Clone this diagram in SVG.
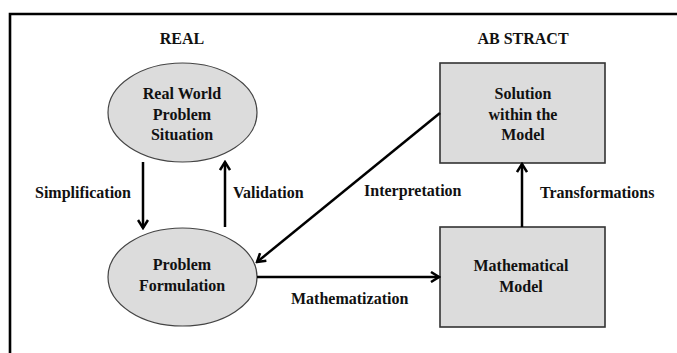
<svg xmlns="http://www.w3.org/2000/svg" width="677" height="353" viewBox="0 0 677 353">
  <style>
    text { font-family: "Liberation Serif", "Times New Roman", serif; font-weight: bold; font-size: 16px; fill: #111; text-anchor: middle; }
    .lbl { text-anchor: start; }
    .node { fill: #dcdcdc; stroke: #444; stroke-width: 1.2; }
    .box { fill: #dcdcdc; stroke: #333; stroke-width: 1.6; }
    .conn { stroke: #000; stroke-width: 2.5; fill: none; marker-end: url(#arrow); }
  </style>
  <defs>
    <marker id="arrow" viewBox="0 0 12 12" refX="10" refY="6" markerWidth="12" markerHeight="12" markerUnits="userSpaceOnUse" orient="auto">
      <polyline points="2,1 10,6 2,11" fill="none" stroke="#000" stroke-width="2.5"/>
    </marker>
  </defs>
  <rect width="677" height="353" fill="#fff"/>
  <!-- frame: top and left edges only -->
  <path d="M10,353 V14 H677" fill="none" stroke="#000" stroke-width="2.6"/>

  <text x="182" y="44">REAL</text>
  <text x="523" y="44">AB STRACT</text>

  <g id="real-world">
    <ellipse class="node" cx="182.5" cy="112.5" rx="74.5" ry="49.5"/>
    <text x="182" y="99">Real World</text>
    <text x="182" y="120">Problem</text>
    <text x="182" y="140">Situation</text>
  </g>
  <g id="problem-formulation">
    <ellipse class="node" cx="182.5" cy="277" rx="74.5" ry="49"/>
    <text x="182" y="270">Problem</text>
    <text x="182" y="291">Formulation</text>
  </g>
  <g id="solution">
    <rect class="box" x="440" y="63" width="165" height="100"/>
    <text x="523" y="99">Solution</text>
    <text x="523" y="120">within the</text>
    <text x="523" y="140">Model</text>
  </g>
  <g id="math-model">
    <rect class="box" x="440" y="227" width="165" height="100"/>
    <text x="521" y="271">Mathematical</text>
    <text x="521" y="292">Model</text>
  </g>

  <g id="connectors">
    <line class="conn" x1="143" y1="162" x2="143" y2="228"/>
    <line class="conn" x1="225" y1="227" x2="225" y2="162"/>
    <line class="conn" x1="440" y1="113" x2="257" y2="262"/>
    <line class="conn" x1="257" y1="277" x2="439" y2="277"/>
    <line class="conn" x1="522" y1="227" x2="522" y2="164"/>
  </g>

  <text class="lbl" x="35" y="198">Simplification</text>
  <text class="lbl" x="233" y="198">Validation</text>
  <text class="lbl" x="364" y="196">Interpretation</text>
  <text class="lbl" x="291" y="304">Mathematization</text>
  <text class="lbl" x="540" y="198">Transformations</text>
</svg>
